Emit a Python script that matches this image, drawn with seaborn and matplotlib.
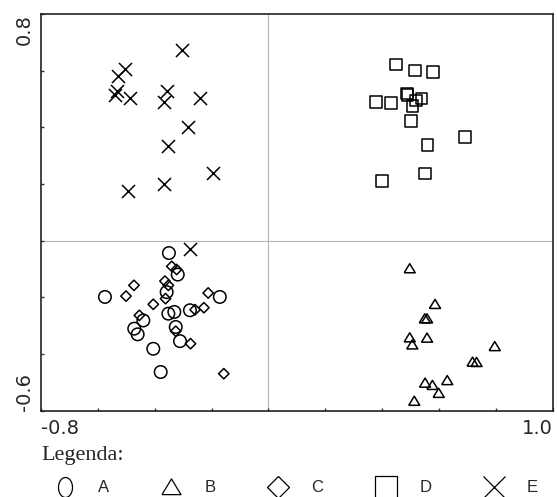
import matplotlib
matplotlib.use('Agg')
import matplotlib.pyplot as plt
from matplotlib.lines import Line2D
import numpy as np
import pandas as pd
import seaborn as sns

# ordination scores
a_x = [-0.350, -0.319, -0.358, -0.575, -0.171, -0.352, -0.331, -0.276, -0.440, -0.472,
       -0.460, -0.326, -0.311, -0.405, -0.379]
a_y = [-0.044, -0.120, -0.182, -0.199, -0.199, -0.258, -0.252, -0.246, -0.282, -0.311,
       -0.331, -0.305, -0.355, -0.382, -0.464]

b_x = [0.497, 0.586, 0.550, 0.558, 0.497, 0.558, 0.506, 0.796, 0.718, 0.732,
       0.629, 0.551, 0.577, 0.599, 0.513]
b_y = [-0.099, -0.225, -0.276, -0.276, -0.343, -0.344, -0.368, -0.374, -0.429, -0.430,
       -0.494, -0.503, -0.511, -0.539, -0.567]

c_x = [-0.340, -0.323, -0.364, -0.352, -0.473, -0.501, -0.362, -0.405, -0.212, -0.454,
       -0.227, -0.258, -0.326, -0.274, -0.157]
c_y = [-0.091, -0.102, -0.143, -0.158, -0.158, -0.196, -0.205, -0.225, -0.185, -0.264,
       -0.237, -0.244, -0.320, -0.364, -0.470]

d_x = [0.448, 0.515, 0.579, 0.487, 0.490, 0.539, 0.519, 0.507, 0.378, 0.431,
       0.501, 0.692, 0.560, 0.551, 0.400]
d_y = [0.622, 0.601, 0.595, 0.520, 0.515, 0.502, 0.494, 0.476, 0.490, 0.486,
       0.422, 0.366, 0.337, 0.237, 0.210]

e_x = [-0.305, -0.505, -0.528, -0.532, -0.540, -0.487, -0.358, -0.366, -0.241, -0.284,
       -0.355, -0.194, -0.367, -0.493, -0.276]
e_y = [0.673, 0.606, 0.581, 0.529, 0.514, 0.502, 0.529, 0.490, 0.504, 0.400,
       0.334, 0.239, 0.199, 0.175, -0.028]

groups = ["A", "B", "C", "D", "E"]
x_ticks = [-0.8, -0.6, -0.4, -0.2, 0.0, 0.2, 0.4, 0.6, 0.8, 1.0]
y_ticks = [-0.6, -0.4, -0.2, 0.0, 0.2, 0.4, 0.6, 0.8]

df = pd.concat([
    pd.DataFrame({"x": xs, "y": ys, "group": g})
    for g, xs, ys in zip(groups, [a_x, b_x, c_x, d_x, e_x], [a_y, b_y, c_y, d_y, e_y])
])

# marker shapes
tri = [(-1, -0.75), (1, -0.75), (0, 0.9), (-1, -0.75)]
t = np.linspace(0, 2 * np.pi, 60)
ellipse = list(zip(0.7 * np.cos(t), np.sin(t)))

styles = {
    "A": dict(marker="o", s=81),
    "B": dict(marker=tri, s=63),
    "C": dict(marker="D", s=28),
    "D": dict(marker="s", s=69),
    "E": dict(marker="x", s=88),
}

sns.set_style("white")
fig = plt.figure(figsize=(5.57, 4.97), dpi=100)
ax = fig.add_axes([0.0736, 0.174, 0.9187, 0.7978])

ax.axvline(0, color="#b4b4b4", lw=0.8, zorder=0)
ax.axhline(0, color="#b4b4b4", lw=0.8, zorder=0)

for g in groups:
    sub = df[df["group"] == g]
    if g == "E":
        sns.scatterplot(data=sub, x="x", y="y", ax=ax, color="black",
                        linewidth=1.1, **styles[g])
    else:
        sns.scatterplot(data=sub, x="x", y="y", ax=ax, facecolor="none",
                        edgecolor="black", linewidth=1.1, **styles[g])

ax.set_xlim(-0.8, 1.0)
ax.set_ylim(-0.6, 0.8)
ax.set_xlabel("")
ax.set_ylabel("")

ax.set_xticks(x_ticks)
ax.set_xticklabels(["-0.8"] + [""] * 8 + ["1.0"], fontsize=14, family="DejaVu Sans")
ax.set_yticks(y_ticks)
ax.set_yticklabels(["-0.6"] + [""] * 6 + ["0.8"], fontsize=14, family="DejaVu Sans",
                   rotation=90)
ax.tick_params(axis="both", direction="in", length=2.5, width=1, color="#333333",
               bottom=True, left=True, top=False, right=False)
ax.tick_params(axis="x", pad=6)
ax.tick_params(axis="y", pad=5)
xl = ax.get_xticklabels()
xl[0].set_ha("left")
xl[-1].set_ha("right")
yl = ax.get_yticklabels()
yl[0].set_va("bottom")
yl[-1].set_va("top")

for sp in ax.spines.values():
    sp.set_color("#222222")
    sp.set_linewidth(1.2)

fig.text(41 / 557, 1 - 460 / 497, "Legenda:", family="Liberation Serif", fontsize=16,
         va="baseline", ha="left")

handles = [
    Line2D([], [], ls="none", marker=ellipse, ms=14.4, mfc="none", mec="black", mew=0.9),
    Line2D([], [], ls="none", marker=tri, ms=13.7, mfc="none", mec="black", mew=0.9),
    Line2D([], [], ls="none", marker="D", ms=10.7, mfc="none", mec="black", mew=0.9),
    Line2D([], [], ls="none", marker="s", ms=15.8, mfc="none", mec="black", mew=0.9),
    Line2D([], [], ls="none", marker="x", ms=15.8, color="black", mew=0.9),
]
fig.legend(handles, groups, ncol=5, loc="center left",
           bbox_to_anchor=(48 / 557, 1 - 488 / 497), frameon=False,
           handlelength=2, handletextpad=1.0, columnspacing=2.74,
           borderpad=0, borderaxespad=0,
           prop={"family": "Liberation Sans", "size": 12})

fig.savefig("out.png", dpi=100)
plt.close(fig)
